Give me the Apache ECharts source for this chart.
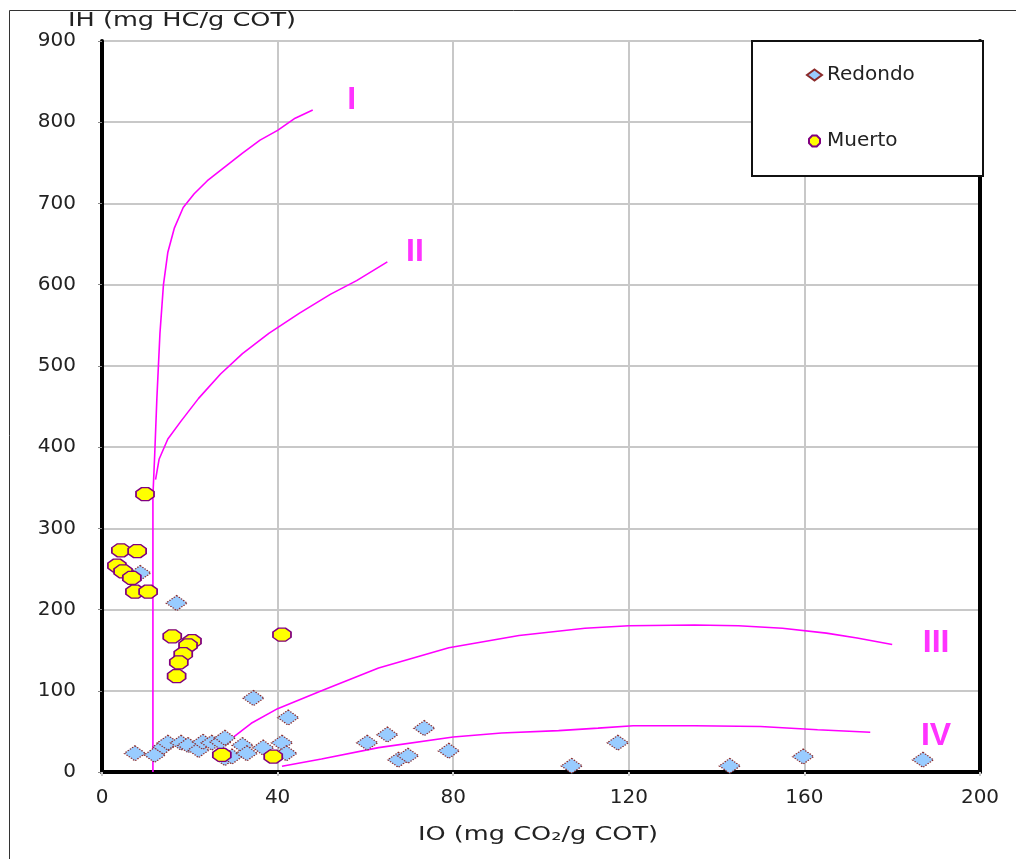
<!DOCTYPE html>
<html>
<head>
<meta charset="utf-8">
<script src="https://cdn.jsdelivr.net/npm/echarts@6/dist/echarts.min.js"></script>
<style>
html,body{margin:0;padding:0;background:#fff;}
#c{width:1016px;height:859px;}
</style>
</head>
<body>
<div id="c"></div>
<script>
// ---- data ----
const xTicks = [0, 40, 80, 120, 160, 200];
const yTicks = [0, 100, 200, 300, 400, 500, 600, 700, 800, 900];

const redondoIO = [7.5, 12, 14, 15, 18, 19.6, 22, 23, 25, 27, 28, 28, 29.6, 32, 33, 36.7, 41, 42, 42.4, 34.5, 8.7, 17, 60.4, 65, 67.5, 69.7, 73.4, 79, 117.5, 107, 143, 159.7, 187];
const redondoIH = [23, 21, 31, 36, 36, 33, 27, 37, 36, 37, 42, 17, 19, 33, 23, 30, 36, 23, 67, 91, 245, 208, 36, 46, 15, 20, 54, 26, 36, 7.5, 7.5, 19, 15];

const muertoIO = [9.8, 4.3, 8, 3.4, 4.8, 6.8, 7.5, 10.5, 16, 20.5, 19.6, 18.5, 17.5, 17, 41, 27.3, 39];
const muertoIH = [342, 273, 272, 254, 247, 239, 222, 222, 167, 161, 156, 145, 135, 118, 169, 21, 19];

// kerogen type curves (IO, IH)
const curveI = [[11.6,0],[11.6,340],[12.0,390],[12.5,460],[13.2,540],[14,600],[15,640],[16.5,670],[18.5,695],[21,712],[24,728],[28,745],[32,762],[36,778],[40,790],[44,805],[48,815]];
const curveII = [[12.2,360],[13,385],[15,410],[18,432],[22,460],[27,490],[32,515],[38,540],[45,565],[52,588],[58,605],[65,628]];
const curveIII = [[28,35],[34,60],[40,78],[50,100],[63,128],[79,153],[95,168],[110,177],[120,180],[135,181],[145,180],[155,177],[165,171],[172,165],[180,157]];
const curveIV = [[41,7],[50,16],[63,30],[80,43],[91,48],[104,51],[113,54],[121,57],[135,57],[150,56],[163,52],[175,49]];

const typeLabels = ['I', 'II', 'III', 'IV'];
const typeLabelIO = [56.9, 71.3, 190, 190];
const typeLabelIH = [827, 640, 159, 44];

const seriesNames = ['Redondo', 'Muerto'];
const xTitle = 'IO (mg CO\u2082/g COT)';
const yTitle = 'IH (mg HC/g COT)';

// ---- chart ----
const zip = (a, b) => a.map((v, i) => [v, b[i]]);
const octagon = 'path://M3,0 L7,0 L10,3 L10,7 L7,10 L3,10 L0,7 L0,3 Z';
const FONT = 'DejaVu Sans';
const MAG = '#ff00ff';

const lineSeries = (name, d) => ({
  name: name, type: 'line', data: d, showSymbol: false, symbol: 'none',
  lineStyle: { color: MAG, width: 1.6 }, itemStyle: { color: MAG },
  smooth: false, silent: true, z: 1
});

const chart = echarts.init(document.getElementById('c'), null, { renderer: 'canvas' });
chart.setOption({
  animation: false,
  backgroundColor: '#ffffff',
  grid: { left: 102, right: 36, top: 41, bottom: 87, containLabel: false },
  xAxis: {
    type: 'value', min: xTicks[0], max: xTicks[xTicks.length - 1], interval: 40,
    axisLine: { show: true, onZero: false, lineStyle: { color: '#000', width: 4 } },
    axisTick: { show: true, length: 4, lineStyle: { color: '#c8c8c8', width: 2 } },
    axisLabel: { color: '#222', fontFamily: FONT, fontSize: 20, margin: 16 },
    splitLine: { show: true, lineStyle: { color: '#c8c8c8', width: 2 } }
  },
  yAxis: [{
    type: 'value', min: yTicks[0], max: yTicks[yTicks.length - 1], interval: 100,
    axisLine: { show: true, onZero: false, lineStyle: { color: '#000', width: 4 } },
    axisTick: { show: true, length: 4, lineStyle: { color: '#888', width: 1 } },
    axisLabel: { color: '#222', fontFamily: FONT, fontSize: 20, margin: 26 },
    splitLine: { show: true, lineStyle: { color: '#c8c8c8', width: 2 } }
  }, {
    type: 'value', position: 'right', min: 0, max: 900, interval: 100,
    axisLine: { show: true, onZero: false, lineStyle: { color: '#000', width: 4 } },
    axisTick: { show: false }, axisLabel: { show: false }, splitLine: { show: false }
  }],
  legend: {
    data: [{ name: seriesNames[0], icon: 'diamond' }, { name: seriesNames[1], icon: octagon }],
    orient: 'vertical', left: 801, top: 60, itemGap: 46,
    itemWidth: 15, itemHeight: 11,
    textStyle: { color: '#222', fontFamily: FONT, fontSize: 20 },
    z: 20
  },
  graphic: [
    { type: 'rect', shape: { x: 9.5, y: 10.5, width: 1100, height: 1000 },
      style: { fill: 'none', stroke: '#333', lineWidth: 1 }, z: 0, silent: true },
    { type: 'rect', shape: { x: 752, y: 41, width: 231, height: 135 },
      style: { fill: '#fff', stroke: '#111', lineWidth: 2 }, z: 10, silent: true },
    { type: 'text', left: 68, top: 11, z: 10, scaleX: 1.28,
      style: { text: yTitle, fill: '#222', font: '20px "DejaVu Sans"' } },
    { type: 'text', left: 418, top: 825, z: 10, scaleX: 1.28,
      style: { text: xTitle, fill: '#222', font: '20px "DejaVu Sans"' } }
  ],
  series: [
    lineSeries('typeI', curveI),
    lineSeries('typeII', curveII),
    lineSeries('typeIII', curveIII),
    lineSeries('typeIV', curveIV),
    {
      name: seriesNames[0], type: 'scatter', data: zip(redondoIO, redondoIH),
      symbol: 'diamond', symbolSize: [21, 15],
      itemStyle: { color: '#99ccff', borderColor: '#8b2a2a', borderWidth: 1.3, borderType: 'dotted', opacity: 1 },
      z: 3
    },
    {
      name: seriesNames[1], type: 'scatter', data: zip(muertoIO, muertoIH),
      symbol: octagon, symbolSize: [18, 13],
      itemStyle: { color: '#ffff00', borderColor: '#800080', borderWidth: 1.5, opacity: 1 },
      z: 4
    },
    {
      name: 'typeLabels', type: 'scatter', silent: true,
      data: typeLabelIO.map((v, i) => ({ value: [v, typeLabelIH[i]], name: typeLabels[i] })),
      symbolSize: 1, itemStyle: { color: 'rgba(0,0,0,0)' },
      label: { show: true, position: 'inside', formatter: p => p.name,
        color: MAG, fontFamily: 'Liberation Sans', fontWeight: 'bold', fontSize: 32 },
      z: 5
    }
  ]
});
</script>
</body>
</html>
